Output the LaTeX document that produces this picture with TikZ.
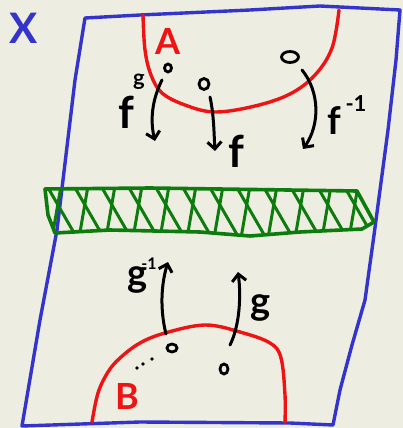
\documentclass[tikz,border=0pt]{standalone}
\usepackage{fontspec}
\setmainfont{Lato}
\usetikzlibrary{arrows.meta}
\definecolor{bgc}{RGB}{238,237,225}
\definecolor{bluec}{RGB}{52,52,204}
\definecolor{redc}{RGB}{238,20,20}
\definecolor{greenc}{RGB}{12,125,12}
\tikzset{
  outl/.style={bluec, line width=3.4pt, line join=round, line cap=round},
  setline/.style={redc, line width=3.4pt, line cap=round},
  band/.style={greenc, line width=3.6pt, line join=round, line cap=round},
  hatch/.style={greenc, line width=3pt, line cap=round},
  maparrow/.style={black, line width=3pt, line cap=round, -{Straight Barb[length=7pt,width=14pt,line width=3pt]}},
  pt/.style={black, line width=2.8pt},
  lbl/.style={inner sep=0pt, font=\fontsize{44}{48}\selectfont\bfseries},
  sup/.style={inner sep=0pt, font=\fontsize{22}{24}\selectfont\bfseries},
}
\begin{document}
\begin{tikzpicture}[x=1pt,y=-1pt]
\fill[bgc] (0,0) rectangle (403,428);
\useasboundingbox (0,0) rectangle (403,428);

% outer space X
\draw[outl] (85,18) -- (140,15) -- (250,10) -- (320,6) -- (400,10)
  -- (396,60) -- (388,130) -- (382,175) -- (374,235) -- (365,300) -- (352,345) -- (340,390) -- (333,425)
  -- (290,423) -- (140,422) -- (22,426)
  -- (40,320) -- (57,230) -- (63,180) -- (75,80) -- cycle;
\node[lbl, bluec, font=\fontsize{42}{46}\selectfont\bfseries] (X) at (24,28) {X};

% set A
\draw[setline] plot[smooth, tension=0.6] coordinates {(143,15) (145,50) (151,75) (162,93) (185,105) (215,112) (255,106) (290,94) (315,75) (332,48) (339,10)};
\node[lbl, redc, font=\fontsize{36}{40}\selectfont\bfseries] (A) at (168,41) {A};

% set B
\draw[setline] plot[smooth, tension=0.6] coordinates {(92,422) (98,393) (108,372) (120,358) (140,343) (165,333) (205,325) (240,332) (270,343) (281,358) (285,395) (285,422)};
\node[lbl, redc, font=\fontsize{36}{40}\selectfont\bfseries] (B) at (127,396) {B};

% green band
\begin{scope}
\clip (45,189) -- (150,188) -- (357,191) -- (374,222) -- (362,229) -- (300,232) -- (250,236) -- (200,232) -- (110,230) -- (55,233) -- (48,215) -- cycle;
\foreach \x in {20,47,...,400} {
  \draw[hatch] (\x,186) -- (\x+30,238);
  \draw[hatch] (\x+14,186) -- (\x+5,238);
}
\end{scope}
\draw[band] (45,189) -- (150,188) -- (357,191) -- (374,222) -- (362,229) -- (300,232) -- (250,236) -- (200,232) -- (110,230) -- (55,233) -- (48,215) -- cycle;

% points in A
\draw[pt] (168,68) ellipse [x radius=3.5, y radius=4];
\draw[pt] (204,84) ellipse [x radius=5, y radius=5.5];
\draw[pt] (290,57) ellipse [x radius=8.5, y radius=5.5];
% points in B
\draw[pt] (172,348) ellipse [x radius=5, y radius=4];
\draw[pt] (224,369) ellipse [x radius=4, y radius=5];
\fill (137,368) circle (1.8);
\fill (143,364) circle (1.8);
\fill (152,359) circle (1.8);

% arrows
\coordinate (s1) at (162,80); \coordinate (e1) at (155,141);
\coordinate (s2) at (210,97); \coordinate (e2) at (215,151);
\coordinate (s3) at (302,70); \coordinate (e3) at (303,149);
\coordinate (s4) at (166,334); \coordinate (e4) at (168,262);
\coordinate (s5) at (230,345); \coordinate (e5) at (238,272);
\draw[maparrow] (s1) .. controls (152,100) and (150,120) .. (e1);
\draw[maparrow] (s2) .. controls (214,115) and (214,135) .. (e2);
\draw[maparrow] (s3) .. controls (320,92) and (320,125) .. (e3);
\draw[maparrow] (s4) .. controls (160,310) and (161,285) .. (e4);
\draw[maparrow] (s5) .. controls (240,325) and (241,295) .. (e5);

% labels
\node[lbl] (f1) at (126,112) {f};
\node[sup] (g1) at (139,82) {g};
\node[lbl] (f2) at (236,151) {f};
\node[lbl, font=\fontsize{38}{40}\selectfont\bfseries] (f3) at (334,121) {f};
\node[sup] (m3) at (356,104) {-1};
\node[lbl, font=\fontsize{38}{40}\selectfont\bfseries] (g4) at (138,280) {g};
\node[sup, font=\fontsize{16}{18}\selectfont\bfseries] (m4) at (149,264) {-1};
\node[lbl, font=\fontsize{38}{40}\selectfont\bfseries] (g5) at (261,308) {g};
\end{tikzpicture}
\end{document}
